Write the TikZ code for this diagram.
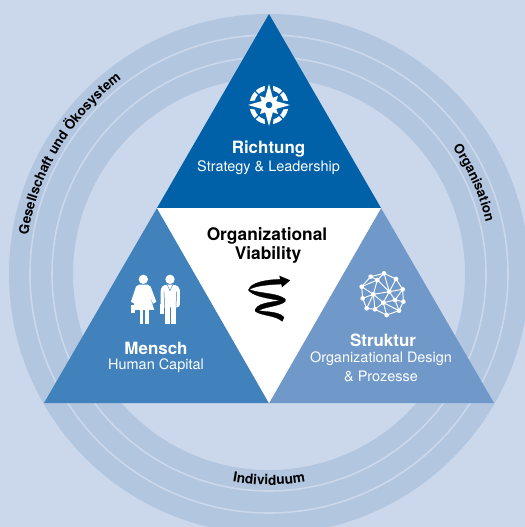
\documentclass[tikz,border=0pt]{standalone}
\usepackage{fontspec}
\setmainfont{TeX Gyre Heros}
\usetikzlibrary{decorations.text}
\definecolor{bgc}{HTML}{CBD8EB}
\definecolor{ringc}{HTML}{B2C6E0}
\definecolor{topc}{HTML}{0060A8}
\definecolor{leftc}{HTML}{4182BC}
\definecolor{rightc}{HTML}{7099CA}
\newcommand{\fsz}[1]{\fontsize{#1}{#1}\selectfont}
\tikzset{
  head/.style={font=\fsz{17}\bfseries,text=white,inner sep=0pt},
  sub/.style={font=\fsz{14.5},text=white,inner sep=0pt},
  mid/.style={font=\fsz{17.4}\bfseries,text=black,inner sep=0pt},
  sep/.style={draw=bgc,line width=1.6pt},
  wire/.style={draw=white,line width=0.95pt},
  ribbon/.style={fill=black,draw=black,line width=0.3pt,line join=round},
  ringtext/.style={decorate,decoration={text along path,text align=center,text={#1}}}
}
\begin{document}
\begin{tikzpicture}[x=1bp,y=-1bp]
\useasboundingbox (0,0) rectangle (525,527);
\clip (0,0) rectangle (525,527);
\fill[bgc] (0,0) rectangle (525,527);
\coordinate (C) at (269,274);
\fill[ringc,even odd rule] (C) circle[radius=260] (C) circle[radius=196];
\draw[sep] (C) circle[radius=217];
\draw[sep] (C) circle[radius=239];
% ring labels
\path[ringtext={|\fsz{13.6}\bfseries|Gesellschaft und Ökosystem}] (C) ++(185:244) arc[start angle=185,end angle=237,radius=244];
\path[ringtext={|\fsz{13.4}\bfseries|Organisation}] (C) ++(-41:223) arc[start angle=-41,end angle=-7,radius=223];
\path[ringtext={|\fsz{13.8}\bfseries|Individuum}] (C) ++(105:211) arc[start angle=105,end angle=75,radius=211];
% triangles
\coordinate (A) at (269,14);
\coordinate (L) at (44,403);
\coordinate (R) at (494,403);
\coordinate (ML) at (157,208);
\coordinate (MR) at (381,208);
\coordinate (MB) at (269,403);
\fill[topc] (A) -- (MR) -- (ML) -- cycle;
\fill[leftc] (ML) -- (MB) -- (L) -- cycle;
\fill[rightc] (MR) -- (R) -- (MB) -- cycle;
\fill[white] (ML) -- (MR) -- (MB) -- cycle;
% labels
\node[head] (richtung) at (268.5,149.5) {Richtung};
\node[sub] (strategy) at (268.5,168) {Strategy \& Leadership};
\node[mid] (viab1) at (267,235.5) {Organizational};
\node[mid] (viab2) at (268,255) {Viability};
\node[head] (mensch) at (156,348) {Mensch};
\node[sub] (human) at (156,366) {Human Capital};
\node[head] (struktur) at (383,340) {Struktur};
\node[sub] (design) at (381,359) {Organizational Design};
\node[sub] (prozesse) at (381,376) {\& Prozesse};
% compass
\begin{scope}[shift={(269,105)}]
  \fill[white,even odd rule] (0,0) circle[radius=19.5] (0,0) circle[radius=15];
  \foreach \a in {0,90,180,270}{
    \fill[topc,rotate=\a] (-3.4,-21) -- (3.4,-21) -- (5.5,-8) -- (-5.5,-8) -- cycle;
  }
  \foreach \a in {45,135,225,315}{
    \fill[topc,rotate=\a] (-0.7,-20) rectangle (0.7,-14);
    \fill[white,rotate=\a] (0,-13) -- (4.5,-3) -- (-4.5,-3) -- cycle;
  }
  \fill[white] (0,-21) -- (4.6,-4.6) -- (21,0) -- (4.6,4.6) -- (0,21) -- (-4.6,4.6) -- (-21,0) -- (-4.6,-4.6) -- cycle;
  \fill[topc] (0,0) circle[radius=3.3];
\end{scope}
% people (coordinates in 3x crop units)
\begin{scope}[shift={(110,260)},x=0.3333bp,y=-0.3333bp]
  \fill[white] (100,58) circle[radius=14];
  \fill[white] (180,58) circle[radius=14];
  \fill[white] (87,74) -- (113,74) -- (122,80) -- (139,125) -- (129,131) -- (115,97) -- (133,150) -- (67,150) -- (85,97) -- (73,131) -- (63,125) -- (78,80) -- cycle;
  \fill[white] (89,150) rectangle (100,193);
  \fill[white] (105,150) rectangle (117,193);
  \fill[white] (64,134) rectangle (75,160);
  \fill[white,rounded corners=3pt] (163,74) -- (197,74) -- (210,84) -- (210,142) -- (152,142) -- (152,84) -- cycle;
  \fill[white] (164,130) rectangle (180,193);
  \fill[white] (182,130) rectangle (198,193);
  \fill[white] (150,132) rectangle (161,162);
  \draw[leftc,line width=0.5pt] (162,95) -- (164,140) (200,95) -- (198,140);
  \draw[leftc,line width=0.4pt] (172,75) -- (180,92) -- (188,75);
\end{scope}
% spiral
\begin{scope}[shift={(110,260)},x=0.3333bp,y=-0.3333bp]
  \fill[ribbon] (514,58) .. controls (470,58) and (420,68) .. (416,90) .. controls (432,78) and (470,74) .. (516,72) -- cycle;
  \fill[ribbon] (416,88) .. controls (450,102) and (505,98) .. (526,118) .. controls (527,122) and (526,124) .. (524,126) .. controls (500,116) and (440,116) .. (416,92) -- cycle;
  \fill[ribbon] (524,116) .. controls (510,128) and (445,122) .. (435,150) -- (440,156) .. controls (455,140) and (510,140) .. (526,124) -- cycle;
  \fill[ribbon] (436,148) .. controls (450,158) and (505,150) .. (522,172) -- (517,184) .. controls (495,165) and (455,168) .. (436,154) -- cycle;
  \fill[black] (508,47) -- (541,61) -- (516,82) -- cycle;
\end{scope}
% sphere
\begin{scope}[shift={(340,260)},x=0.3333bp,y=-0.3333bp]
  \foreach \n/\x/\y in {a/132/40,b/92/50,c/168/57,d/65/80,e/188/88,f/68/115,g/190/125,h/80/145,i/177/152,j/140/165,k/112/60,l/148/95,m/100/103,n/130/128,o/165/120,p/105/148}{
    \coordinate (s\n) at (\x,\y);
  }
  \draw[wire] (sa) -- (sb) -- (sd) -- (sf) -- (sh) -- (sp) -- (sj) -- (si) -- (sg) -- (se) -- (sc) -- (sa);
  \draw[wire] (sa) -- (sk) -- (sb) (sk) -- (sd) (sk) -- (sm) -- (sd) (sm) -- (sf) (sm) -- (sh) (sm) -- (sp) (sm) -- (sn) -- (sp) (sn) -- (sj) (sn) -- (si) (sn) -- (so) -- (si) (so) -- (sg) (so) -- (se) (so) -- (sl) -- (sn) (sl) -- (sm) (sl) -- (sk) (sl) -- (sa) (sl) -- (sc) (sl) -- (se);
  \foreach \n in {a,b,c,d,e,f,g,h,i,j,k,l,m,n,o,p}{ \fill[white] (s\n) circle[radius=7]; }
\end{scope}
\end{tikzpicture}
\end{document}
